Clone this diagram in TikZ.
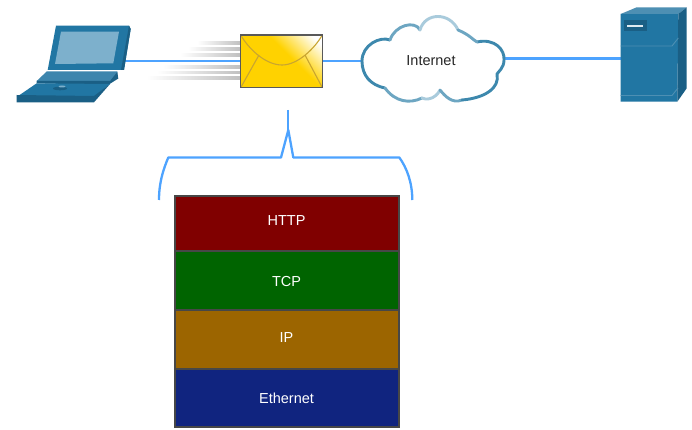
\documentclass[tikz,border=0pt]{standalone}
\usepackage{fontspec}
\setmainfont{Liberation Sans}
\usetikzlibrary{calc}
\definecolor{linkblue}{HTML}{4DA3FF}
\definecolor{teal1}{HTML}{2176A3}
\definecolor{teal2}{HTML}{1A5F85}
\definecolor{teal3}{HTML}{4D8FB3}
\definecolor{screen}{HTML}{7DB0CC}
\definecolor{keys}{HTML}{3D85AD}
\definecolor{cloudedge}{HTML}{3D88AD}
\definecolor{cloudlight}{HTML}{A9CBDC}
\definecolor{mailyellow}{HTML}{FFD200}
\definecolor{mailfold}{HTML}{C9A530}
\definecolor{httpred}{HTML}{800000}
\definecolor{tcpgreen}{HTML}{006400}
\definecolor{ipbrown}{HTML}{9C6500}
\definecolor{ethblue}{HTML}{10247F}
\pgfdeclarehorizontalshading{mailshade}{100bp}{color(0bp)=(mailyellow); color(57bp)=(mailyellow); color(80bp)=(white); color(100bp)=(white)}
\tikzset{
  link/.style={draw=linkblue,line width=2.6pt},
  brace/.style={draw=linkblue,line width=2.3pt,line join=round},
  layer/.style={draw=black!72,line width=1.6pt,minimum width=224pt,anchor=north west,inner sep=0pt,outer sep=0pt},
  layertext/.style={inner sep=0pt,text=white,font=\fontsize{14.5}{16}\selectfont},
  streak/.style={left color=white,right color=black!25,draw=none},
  cloudline/.style={line width=2.9pt,line cap=round,line join=round},
  facemain/.style={fill=teal1,draw=none},
  facedark/.style={fill=teal2,draw=none},
  facelight/.style={fill=teal3,draw=none},
  fold/.style={draw=mailfold,line width=1.1pt}
}
\begin{document}
\begin{tikzpicture}[x=1pt,y=-1pt]
\useasboundingbox (0,0) rectangle (692,430);
\fill[white] (0,0) rectangle (692,430);

% anchors
\node[minimum width=81.5pt,minimum height=52.5pt,inner sep=0pt,outer sep=0pt] (mail) at (281.5,61.3) {};
\coordinate (laptopport) at (124,61);
\coordinate (cloudwest) at (362,61);
\coordinate (cloudeast) at (504,58.7);
\coordinate (serverwest) at (620.5,58.7);
\coordinate (bracetop) at (288.3,110);
\coordinate (bracetip) at (288.3,130);

% connectors
\draw[link] (laptopport) -- (mail.west |- laptopport);
\draw[link] (mail.east |- cloudwest) -- (cloudwest);
\draw[link] (cloudeast) -- (serverwest);

% laptop
\path[facemain] (56,25.7) -- (129,25.7) -- (130.7,29) -- (124,70) -- (47.7,70) -- cycle;
\path[facedark] (129,25.7) -- (130.7,29) -- (124,70) -- (121,70) -- cycle;
\path[fill=screen] (61,31.7) -- (119,31.7) -- (113.3,63.3) -- (55,64) -- cycle;
\path[fill=keys] (46.7,71.5) -- (117.3,71.5) -- (117.3,75) -- (110,81) -- (36.7,81) -- cycle;
\path[facedark] (117.3,72) -- (118.3,78.5) -- (108,85) -- (36.7,83.3) -- (36.7,81) -- (110,81) -- cycle;
\path[facemain] (36.7,83.3) -- (110,84) -- (94,97) -- (16.7,97) -- cycle;
\path[facedark] (16.7,95) -- (94,96) -- (110,84) -- (94,102.3) -- (16.7,102.3) -- cycle;
\fill[teal2] (60,88.5) ellipse (7pt and 1.8pt);
\fill[screen] (62,86.5) ellipse (3.5pt and 1pt);

% speed streaks
\shade[streak] (197,42) rectangle (241,44.5);
\shade[streak] (188,48) rectangle (241,50.5);
\shade[streak] (180,54) rectangle (241,56.5);
\shade[streak] (163,66) rectangle (241,68.5);
\shade[streak] (157,71.5) rectangle (241,74);
\shade[streak] (147,77) rectangle (241,79.5);

% envelope
\shade[shading=mailshade,shading angle=45] (mail.north west) rectangle (mail.south east);
\draw[fold] (mail.north west) .. controls (248,48) and (265,65) .. (282,65) .. controls (298,65) and (315,48) .. (mail.north east);
\draw[fold] (mail.south west) -- (259,55);
\draw[fold] (mail.south east) -- (305,55);
\draw[draw=black!65,line width=1.2pt] (mail.north west) rectangle (mail.south east);

% cloud
\path[fill=white] (362,61) .. controls (362,45) and (380,36) .. (390,40)
  .. controls (395,25) and (415,20) .. (420,30) .. controls (425,12) and (450,12) .. (458,30)
  .. controls (470,35) and (473,40) .. (477,42) .. controls (495,38) and (505,50) .. (504,60)
  .. controls (504,68) and (498,72) .. (497,74) .. controls (500,88) and (485,98) .. (462,100)
  .. controls (452,104) and (445,96) .. (440,90) .. controls (435,100) and (425,100) .. (422,98)
  .. controls (410,104) and (395,102) .. (385,88) .. controls (370,85) and (362,75) .. (362,61) -- cycle;
\draw[cloudline,cloudedge] (390,40) .. controls (380,36) and (362,45) .. (362,61)
  .. controls (362,75) and (370,85) .. (385,88);
\draw[cloudline,cloudedge!75!white] (385,88) .. controls (395,102) and (410,104) .. (422,98);
\draw[cloudline,cloudlight] (422,98) .. controls (425,100) and (435,100) .. (440,90);
\draw[cloudline,cloudedge!75!white] (440,90) .. controls (445,96) and (452,104) .. (462,100);
\draw[cloudline,cloudedge] (462,100) .. controls (485,98) and (500,88) .. (497,74)
  .. controls (498,72) and (504,68) .. (504,60) .. controls (505,50) and (495,38) .. (477,42);
\draw[cloudline,cloudedge!75!white] (390,40) .. controls (395,25) and (415,20) .. (420,30);
\draw[cloudline,cloudlight] (420,30) .. controls (425,12) and (450,12) .. (458,30);
\draw[cloudline,cloudedge!75!white] (458,30) .. controls (470,35) and (473,40) .. (477,42);
\node[inner sep=0pt,font=\fontsize{14.5}{16}\selectfont,text=black!85] (inet) at (431,61) {Internet};

% server
\path[facemain] (620.7,14) -- (678.3,14) -- (677.3,101.7) -- (620.7,101.7) -- cycle;
\path[facelight] (620.7,14) -- (636.7,7.3) -- (686.7,7.3) -- (678.3,14) -- cycle;
\path[facedark] (678.3,14) -- (686.7,7.3) -- (686.7,88.3) -- (677.3,101.7) -- cycle;
\draw[teal3,line width=0.9pt] (620.7,46) -- (672,46) -- (678.3,38);
\draw[teal3,line width=0.9pt] (620.7,95.5) -- (672,95.5) -- (678,88);
\path[fill=teal2] (623.5,20.5) rectangle (647,31);
\draw[white!85!teal1,line width=2.2pt] (627,26) -- (643,26);

% brace
\draw[brace] (bracetop) -- (bracetip);
\draw[brace] (159,200) .. controls (159,183) and (163,170) .. (168.3,157.5) -- (281,157.5) -- (bracetip)
  -- (293.3,157.5) -- (399.3,157.5) .. controls (407,168) and (412.3,183) .. (412.3,200);

% stack
\node[layer,fill=httpred,minimum height=55pt] (http) at (175,196) {};
\node[layer,fill=tcpgreen,minimum height=59pt] (tcp) at (http.south west) {};
\node[layer,fill=ipbrown,minimum height=59pt] (ip) at (tcp.south west) {};
\node[layer,fill=ethblue,minimum height=58pt] (eth) at (ip.south west) {};
\node[layertext] (httpt) at (286.5,221) {HTTP};
\node[layertext] (tcpt) at (286.5,282) {TCP};
\node[layertext] (ipt) at (286.5,338) {IP};
\node[layertext] (etht) at (286.5,398) {Ethernet};
\end{tikzpicture}
\end{document}
